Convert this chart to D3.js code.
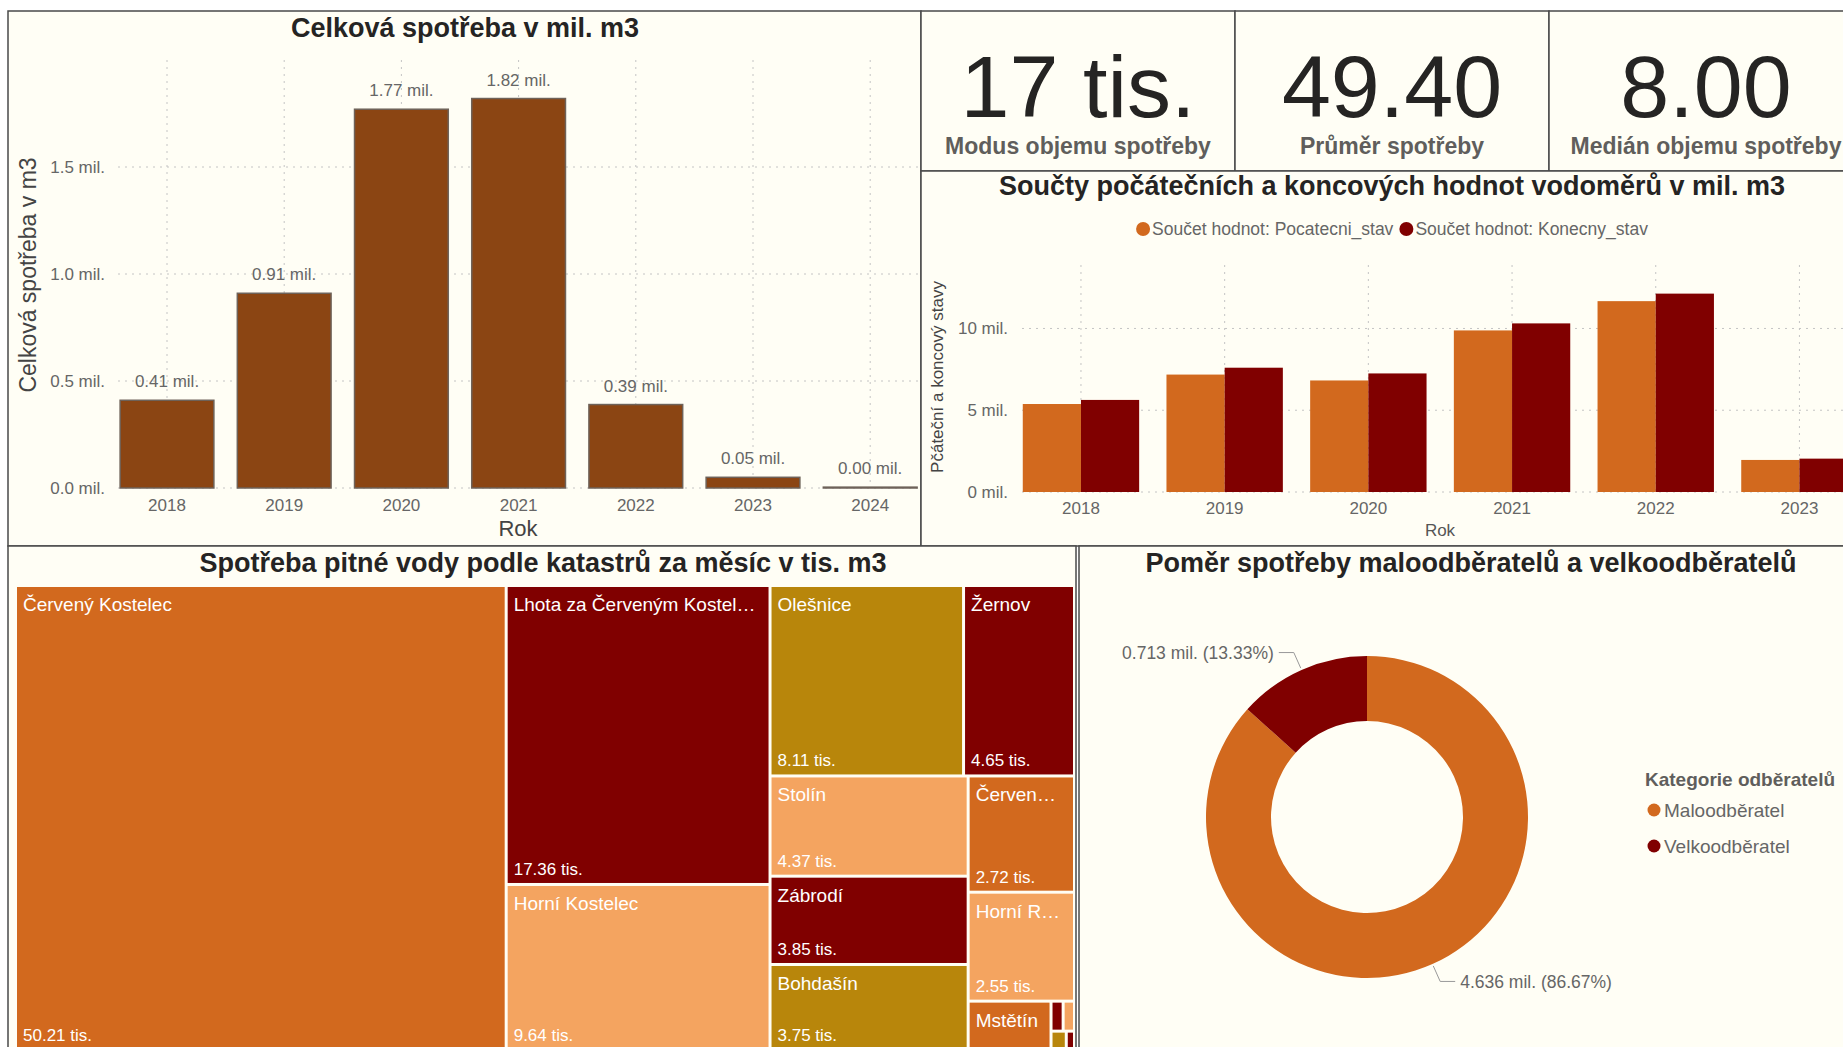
<!DOCTYPE html>
<html><head><meta charset="utf-8">
<script src="https://cdn.jsdelivr.net/npm/d3@7"></script>
<style>
html,body{margin:0;padding:0;background:#fff;overflow:hidden;}
svg{display:block;font-family:"Liberation Sans",Arial,sans-serif;}
</style></head><body>
<svg id="c" width="1843" height="1047"></svg>
<script>
// ---------------- DATA ----------------
const years = ["2018","2019","2020","2021","2022","2023","2024"];
const totalConsumption = [0.41, 0.91, 1.77, 1.82, 0.39, 0.05, 0.004];
const totalTicks = [0, 0.5, 1.0, 1.5];

const kpiValues = ["17 tis.", "49.40", "8.00"];
const kpiLabels = ["Modus objemu spotřeby", "Průměr spotřeby", "Medián objemu spotřeby"];

const meterYears = ["2018","2019","2020","2021","2022","2023"];
const startState = [5.38, 7.18, 6.82, 9.88, 11.67, 1.96];
const endState   = [5.63, 7.60, 7.25, 10.31, 12.13, 2.04];
const meterSeries = ["Součet hodnot: Pocatecni_stav", "Součet hodnot: Konecny_stav"];
const meterTicks = [0, 5, 10];

const cadastres = ["Červený Kostelec","Lhota za Červeným Kostelcem","Horní Kostelec","Olešnice","Žernov","Stolín","Zábrodí","Bohdašín","Červená Hora","Horní Radechová","Mstětín","Sendraž","Slavětín","Studnice","Rtyňka"];
const cadastreValues = [50.21,17.36,9.64,8.11,4.65,4.37,3.85,3.75,2.72,2.55,0.90,0.08,0.075,0.065,0.035];

const customerCategories = ["Maloodběratel","Velkoodběratel"];
const customerValues = [4.636, 0.713];

// ---------------- STYLES ----------------
const BG = "#fffef5", BORDER = "#4a4a4a", TITLE = "#252423", GRAY = "#666666", GRID = "#c4c4c4";
const cOrange = "#D2691E", cMaroon = "#800000", cSandy = "#F4A460", cGold = "#B8860B", cBrown = "#8B4513";
const cadastreColors = [cOrange,cMaroon,cSandy,cGold,cMaroon,cSandy,cMaroon,cGold,cOrange,cSandy,cOrange,cMaroon,cSandy,cGold,cMaroon];
const seriesColors = [cOrange, cMaroon];
const customerColors = [cOrange, cMaroon];

const svg = d3.select("#c");

// panels
const panels = [
  {x:8,y:11,w:913,h:535},
  {x:921,y:11,w:314,h:160},
  {x:1235,y:11,w:314,h:160},
  {x:1549,y:11,w:314,h:160},
  {x:921,y:171,w:942,h:375},
  {x:8,y:546,w:1068,h:510},
  {x:1079,y:546,w:784,h:510}
];
svg.selectAll("rect.panel").data(panels).join("rect").attr("class","panel")
  .attr("x",d=>d.x).attr("y",d=>d.y).attr("width",d=>d.w).attr("height",d=>d.h)
  .attr("fill",BG).attr("stroke",BORDER).attr("stroke-width",1.5);

function title(txt, x, y){
  svg.append("text").attr("x",x).attr("y",y).attr("text-anchor","middle")
    .attr("font-size",27).attr("font-weight","bold").attr("fill",TITLE).text(txt);
}

// ---------------- CHART 1: total consumption ----------------
{
  const x = d3.scaleBand().domain(years).range([108.4, 928.8]).paddingInner(0.2).paddingOuter(0.1);
  const y = d3.scaleLinear().domain([0, 2]).range([488, 60]);
  const g = svg.append("g");
  title("Celková spotřeba v mil. m3", 465, 37);
  g.selectAll("line.hg").data(totalTicks).join("line")
    .attr("x1", 118).attr("x2", 920).attr("y1", d=>y(d)).attr("y2", d=>y(d))
    .attr("stroke", GRID).attr("stroke-dasharray","2,5");
  g.selectAll("line.vg").data(years).join("line")
    .attr("x1", d=>x(d)+x.bandwidth()/2).attr("x2", d=>x(d)+x.bandwidth()/2)
    .attr("y1", y(2)).attr("y2", y(0))
    .attr("stroke", GRID).attr("stroke-dasharray","2,5");
  g.selectAll("rect.bar").data(years).join("rect")
    .attr("x", d=>x(d)).attr("width", x.bandwidth())
    .attr("y", (d,i)=>y(totalConsumption[i])).attr("height",(d,i)=>y(0)-y(totalConsumption[i]))
    .attr("fill", cBrown).attr("stroke","#6e6259").attr("stroke-width",1.5);
  g.selectAll("text.vl").data(years).join("text")
    .attr("x", d=>x(d)+x.bandwidth()/2).attr("y",(d,i)=>y(totalConsumption[i])-13)
    .attr("text-anchor","middle").attr("font-size",17).attr("fill",GRAY)
    .text((d,i)=>d3.format(".2f")(totalConsumption[i])+" mil.");
  g.selectAll("text.yt").data(totalTicks).join("text")
    .attr("x",105).attr("y",d=>y(d)).attr("dy","0.35em").attr("text-anchor","end")
    .attr("font-size",17).attr("fill",GRAY).text(d=>d3.format(".1f")(d)+" mil.");
  g.selectAll("text.xt").data(years).join("text")
    .attr("x", d=>x(d)+x.bandwidth()/2).attr("y", 511).attr("text-anchor","middle")
    .attr("font-size",17).attr("fill",GRAY).text(d=>d);
  g.append("text").attr("x",518).attr("y",536).attr("text-anchor","middle")
    .attr("font-size",22).attr("fill","#444").text("Rok");
  g.append("text").attr("transform","translate(36,275) rotate(-90)").attr("text-anchor","middle")
    .attr("font-size",23).attr("fill","#444").text("Celková spotřeba v m3");
}

// ---------------- KPI cards ----------------
{
  const cx = d3.scaleBand().domain(kpiLabels).range([921, 1863]);
  svg.selectAll("text.kv").data(kpiValues).join("text")
    .attr("x",(d,i)=>cx(kpiLabels[i])+cx.bandwidth()/2).attr("y",117).attr("text-anchor","middle")
    .attr("font-size",88).attr("fill",TITLE).text(d=>d);
  svg.selectAll("text.kl").data(kpiLabels).join("text")
    .attr("x",d=>cx(d)+cx.bandwidth()/2).attr("y",154).attr("text-anchor","middle")
    .attr("font-size",23).attr("font-weight","bold").attr("fill","#605e5c").text(d=>d);
}

// ---------------- CHART 2: meter sums ----------------
{
  const x = d3.scaleBand().domain(meterYears).range([1008.4, 1872]).paddingInner(0.19).paddingOuter(0.1);
  const xs = d3.scaleBand().domain([0,1]).range([0, x.bandwidth()]);
  const y = d3.scaleLinear().domain([0, 13.88]).range([492, 265]);
  const g = svg.append("g");
  title("Součty počátečních a koncových hodnot vodoměrů v mil. m3", 1392, 195);
  g.selectAll("line.hg").data(meterTicks).join("line")
    .attr("x1", 1022).attr("x2", 1863).attr("y1", d=>y(d)).attr("y2", d=>y(d))
    .attr("stroke", GRID).attr("stroke-dasharray","2,5");
  g.selectAll("line.vg").data(meterYears).join("line")
    .attr("x1", d=>x(d)+x.bandwidth()/2).attr("x2", d=>x(d)+x.bandwidth()/2)
    .attr("y1", y(13.88)).attr("y2", y(0))
    .attr("stroke", GRID).attr("stroke-dasharray","2,5");
  [startState, endState].forEach((vals, s) => {
    g.selectAll("rect.s"+s).data(meterYears).join("rect")
      .attr("x", d=>x(d)+xs(s)).attr("width", xs.bandwidth())
      .attr("y",(d,i)=>y(vals[i])).attr("height",(d,i)=>y(0)-y(vals[i]))
      .attr("fill", seriesColors[s]);
  });
  g.selectAll("text.yt").data(meterTicks).join("text")
    .attr("x",1008).attr("y",d=>y(d)).attr("dy","0.35em").attr("text-anchor","end")
    .attr("font-size",17).attr("fill",GRAY).text(d=>d+" mil.");
  g.selectAll("text.xt").data(meterYears).join("text")
    .attr("x", d=>x(d)+x.bandwidth()/2).attr("y", 514).attr("text-anchor","middle")
    .attr("font-size",17).attr("fill",GRAY).text(d=>d);
  g.append("text").attr("x",1440).attr("y",536).attr("text-anchor","middle")
    .attr("font-size",17).attr("fill","#555").text("Rok");
  g.append("text").attr("transform","translate(943,377) rotate(-90)").attr("text-anchor","middle")
    .attr("font-size",17).attr("fill","#444").text("Pčáteční a koncový stavy");
  const lg = g.append("g");
  let cur = 0;
  meterSeries.forEach((s,i)=>{
    const it = lg.append("g").attr("transform",`translate(${cur},0)`);
    it.append("circle").attr("cx",7).attr("cy",0).attr("r",7).attr("fill",seriesColors[i]);
    const t = it.append("text").attr("x",16).attr("y",0).attr("dy","0.35em")
      .attr("font-size",17.5).attr("fill",GRAY).text(s);
    cur += 16 + t.node().getComputedTextLength() + 6;
  });
  const lw = cur - 6;
  lg.attr("transform",`translate(${1392 - lw/2},229)`);
}

// ---------------- CHART 3: treemap ----------------
{
  title("Spotřeba pitné vody podle katastrů za měsíc v tis. m3", 543, 572);
  const ox = 17, oy = 587, W = 1056, H = 462;
  const root = d3.hierarchy({children: cadastres.map((n,i)=>({name:n, value:cadastreValues[i], color:cadastreColors[i]}))})
    .sum(d => d.children ? 0 : d.value)
    .sort((a,b)=>b.value-a.value);
  d3.treemap().tile(d3.treemapSquarify).size([W,H]).paddingInner(3)(root);
  const g = svg.append("g").attr("transform",`translate(${ox},${oy})`);
  const leaves = root.leaves();
  g.selectAll("rect").data(leaves).join("rect")
    .attr("x",d=>d.x0).attr("y",d=>d.y0).attr("width",d=>d.x1-d.x0).attr("height",d=>d.y1-d.y0)
    .attr("fill",d=>d.data.color);
  const meas = g.append("text").attr("font-size",19).attr("visibility","hidden");
  function fit(txt, maxW){
    meas.text(txt);
    if (meas.node().getComputedTextLength() <= maxW) return txt;
    let s = txt;
    while (s.length > 1) {
      s = s.slice(0,-1);
      meas.text(s.trimEnd()+"…");
      if (meas.node().getComputedTextLength() <= maxW) return s.trimEnd()+"…";
    }
    return "";
  }
  leaves.forEach(d=>{
    const w = d.x1-d.x0, h = d.y1-d.y0;
    if (w < 40 || h < 28) return;
    g.append("text").attr("x",d.x0+6).attr("y",d.y0+24).attr("font-size",19).attr("fill","#fff")
      .text(fit(d.data.name, w-14));
    if (h > 60) {
      g.append("text").attr("x",d.x0+6).attr("y",d.y1-8).attr("font-size",17).attr("fill","#fff")
        .text(d3.format(".2f")(d.value)+" tis.");
    }
  });
  meas.remove();
}

// ---------------- CHART 4: donut ----------------
{
  title("Poměr spotřeby maloodběratelů a velkoodběratelů", 1471, 572);
  const cx = 1367, cy = 817, rO = 161, rI = 96;
  const total = d3.sum(customerValues);
  const pie = d3.pie().sort(null).value(d=>d);
  const arcs = pie(customerValues);
  const arc = d3.arc().innerRadius(rI).outerRadius(rO);
  const g = svg.append("g").attr("transform",`translate(${cx},${cy})`);
  g.selectAll("path").data(arcs).join("path").attr("d",arc).attr("fill",(d,i)=>customerColors[i]);
  arcs.forEach((d,i)=>{
    const a = (d.startAngle+d.endAngle)/2;
    const p = r => [r*Math.sin(a), -r*Math.cos(a)];
    const p1 = p(rO+2), p2 = p(rO+19);
    const side = Math.sin(a) >= 0 ? 1 : -1;
    const p3 = [p2[0]+side*15, p2[1]];
    g.append("polyline").attr("points",[p1,p2,p3].map(q=>q.join(",")).join(" "))
      .attr("fill","none").attr("stroke","#999").attr("stroke-width",1);
    g.append("text").attr("x",p3[0]+side*5).attr("y",p3[1]).attr("dy","0.35em")
      .attr("text-anchor", side>0 ? "start":"end").attr("font-size",17.5).attr("fill",GRAY)
      .text(d3.format(".3f")(customerValues[i])+" mil. ("+d3.format(".2%")(customerValues[i]/total)+")");
  });
  const lg = svg.append("g");
  lg.append("text").attr("x",1645).attr("y",786).attr("font-size",19).attr("font-weight","bold")
    .attr("fill","#605e5c").text("Kategorie odběratelů");
  const ly = d3.scalePoint().domain(customerCategories).range([810, 846]);
  lg.selectAll("circle").data(customerCategories).join("circle")
    .attr("cx",1654).attr("cy",d=>ly(d)).attr("r",6.5).attr("fill",(d,i)=>customerColors[i]);
  lg.selectAll("text.li").data(customerCategories).join("text")
    .attr("x",1664).attr("y",d=>ly(d)).attr("dy","0.35em").attr("font-size",19).attr("fill",GRAY).text(d=>d);
}
</script>
</body></html>
